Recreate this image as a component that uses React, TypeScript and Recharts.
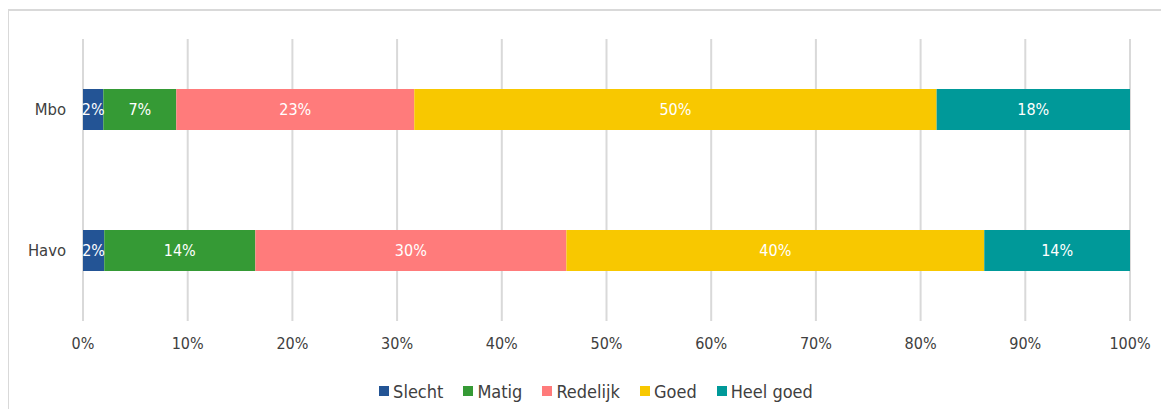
import React from 'react';
import { BarChart, Bar, XAxis, YAxis, CartesianGrid, Legend, LabelList } from 'recharts';

const categories = ['Mbo', 'Havo'];
const seriesNames = ['Slecht', 'Matig', 'Redelijk', 'Goed', 'Heel goed'];
const seriesKeys = ['slecht', 'matig', 'redelijk', 'goed', 'heelGoed'];
const seriesColors = ['#235495', '#359A35', '#FF7B7B', '#F8C800', '#009999'];
const slecht = [1.94, 2.03];
const matig = [6.97, 14.43];
const redelijk = [22.73, 29.71];
const goed = [49.89, 39.91];
const heelGoed = [18.47, 13.92];
const xTicks = [0, 10, 20, 30, 40, 50, 60, 70, 80, 90, 100];

const seriesValues = [slecht, matig, redelijk, goed, heelGoed];
const data = categories.map((c, i) => {
  const row: Record<string, any> = { name: c };
  seriesKeys.forEach((k, j) => {
    row[k] = seriesValues[j][i];
  });
  return row;
});

const FONT = "'DejaVu Sans Condensed', 'DejaVu Sans', sans-serif";
const TEXT = '#404040';

const LegendContent = () => (
  <div
    style={{
      display: 'flex',
      justifyContent: 'center',
      alignItems: 'center',
      height: 20,
      fontFamily: FONT,
      fontStretch: 'condensed',
      fontSize: 18,
      color: TEXT,
      paddingLeft: 54,
      boxSizing: 'border-box',
    }}
  >
    {seriesNames.map((n, i) => (
      <div key={n} style={{ display: 'flex', alignItems: 'center', marginRight: i < seriesNames.length - 1 ? 20 : 0 }}>
        <span style={{ width: 10, height: 10, background: seriesColors[i], marginRight: 4, display: 'inline-block' }} />
        <span>{n}</span>
      </div>
    ))}
  </div>
);

export default function App() {
  return (
    <div style={{ position: 'relative', width: 1161, height: 402 }}>
      <div
        style={{
          position: 'absolute',
          left: -1,
          top: 1,
          width: 1162,
          height: 400,
          borderTop: '2px solid #d9d9d9',
          borderLeft: '2px solid #d9d9d9',
          boxSizing: 'border-box',
        }}
      />
      <div style={{ position: 'absolute', left: 0, top: 0 }}>
        <BarChart
          width={1161}
          height={402}
          data={data}
          layout="vertical"
          margin={{ top: 31, right: 39, bottom: 9, left: 0 }}
          barSize={41}
        >
          <CartesianGrid horizontal={false} stroke="#d9d9d9" strokeWidth={2} />
          <XAxis
            type="number"
            domain={[0, 100]}
            ticks={xTicks}
            tickFormatter={(v: number) => `${v}%`}
            axisLine={false}
            tickLine={false}
            tickSize={0}
            tickMargin={17}
            height={60}
            interval={0}
            tick={{ fill: TEXT, fontSize: 16, fontFamily: FONT, fontStretch: 'condensed' } as any}
          />
          <YAxis
            type="category"
            dataKey="name"
            width={75}
            axisLine={false}
            tickLine={false}
            tickSize={0}
            tickMargin={17}
            tick={{ fill: TEXT, fontSize: 16.5, fontFamily: FONT, fontStretch: 'condensed' } as any}
          />
          <Legend verticalAlign="bottom" content={<LegendContent />} />
          {seriesKeys.map((k, i) => (
            <Bar key={k} dataKey={k} name={seriesNames[i]} stackId="a" fill={seriesColors[i]} isAnimationActive={false}>
              <LabelList
                dataKey={k}
                position="center"
                formatter={(v: any) => `${Math.round(Number(v))}%`}
                style={{ fill: '#ffffff', fontSize: 16, fontFamily: FONT, fontStretch: 'condensed' } as any}
              />
            </Bar>
          ))}
        </BarChart>
      </div>
    </div>
  );
}
